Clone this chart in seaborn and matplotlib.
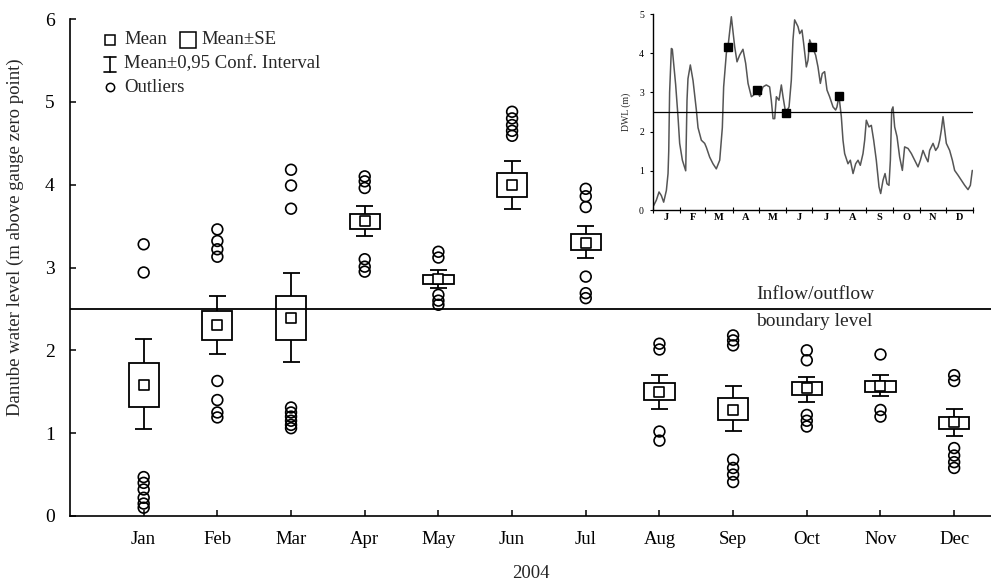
import numpy as np
import pandas as pd
import matplotlib
matplotlib.use("Agg")
import matplotlib.pyplot as plt
import seaborn as sns

# ---- monthly statistics of the Danube water level, 2004 ----
months = ["Jan", "Feb", "Mar", "Apr", "May", "Jun",
          "Jul", "Aug", "Sep", "Oct", "Nov", "Dec"]
mean_level = [1.58, 2.30, 2.39, 3.56, 2.86, 4.00, 3.30, 1.50, 1.28, 1.54, 1.57, 1.13]
se_low = [1.32, 2.13, 2.13, 3.47, 2.80, 3.85, 3.21, 1.40, 1.16, 1.46, 1.50, 1.05]
se_high = [1.85, 2.47, 2.65, 3.65, 2.91, 4.14, 3.40, 1.60, 1.43, 1.62, 1.63, 1.20]
ci_low = [1.05, 1.96, 1.86, 3.38, 2.75, 3.71, 3.11, 1.29, 1.03, 1.38, 1.45, 0.97]
ci_high = [2.14, 2.66, 2.93, 3.74, 2.97, 4.28, 3.50, 1.70, 1.57, 1.68, 1.70, 1.29]

outlier_month = (["Jan"] * 8 + ["Feb"] * 8 + ["Mar"] * 9 + ["Apr"] * 6 +
                 ["May"] * 5 + ["Jun"] * 5 + ["Jul"] * 6 + ["Aug"] * 4 +
                 ["Sep"] * 7 + ["Oct"] * 5 + ["Nov"] * 3 + ["Dec"] * 6)
outlier_value = [3.28, 2.94, 0.47, 0.40, 0.32, 0.22, 0.15, 0.10,
                 3.46, 3.32, 3.22, 3.13, 1.63, 1.40, 1.25, 1.19,
                 4.18, 3.99, 3.71, 1.31, 1.25, 1.20, 1.15, 1.10, 1.06,
                 4.10, 4.04, 3.96, 3.10, 3.01, 2.95,
                 3.19, 3.12, 2.67, 2.60, 2.55,
                 4.88, 4.80, 4.72, 4.65, 4.59,
                 3.95, 3.86, 3.73, 2.89, 2.69, 2.63,
                 2.08, 2.01, 1.02, 0.91,
                 2.18, 2.12, 2.06, 0.68, 0.58, 0.50, 0.41,
                 2.00, 1.88, 1.22, 1.15, 1.08,
                 1.95, 1.28, 1.20,
                 1.70, 1.63, 0.82, 0.73, 0.65, 0.58]

boundary_level = 2.5

# ---- daily water level (inset) ----
day = [0, 3.8, 6.9, 9.5, 12.2, 15.3, 17.2, 18.0, 19.0, 21.0, 22.1, 25.9, 28.6,
       30.5, 33.6, 37.4, 38.9, 40.0, 42.7, 45.8, 49.6, 51.5, 55.3, 59.1, 61.0,
       64.8, 68.6, 72.4, 76.3, 79.3, 80.8, 83.9, 85.8, 89.6, 93.4, 96.1, 99.1,
       102.9, 106.0, 108.7, 112.5, 115.1, 118.9, 122.0, 125.8, 129.6, 133.4,
       135.3, 137.3, 139.2, 141.1, 144.1, 146.8, 148.7, 151.7, 155.6, 158.2,
       160.1, 162.0, 165.8, 167.8, 170.4, 172.3, 175.4, 177.3, 179.2, 182.2,
       186.0, 188.7, 191.4, 193.6, 196.3, 199.0, 202.0, 205.9, 208.9, 210.4,
       212.7, 215.4, 217.3, 219.2, 223.0, 225.7, 228.8, 231.8, 234.5, 237.1,
       240.2, 242.1, 244.0, 247.0, 249.7, 252.4, 255.4, 258.5, 260.4, 263.1,
       265.4, 267.6, 269.9, 271.5, 273.0, 274.5, 276.4, 279.1, 282.1, 285.2,
       287.8, 291.7, 295.5, 299.3, 303.1, 305.8, 308.8, 311.9, 314.5, 316.4,
       320.3, 323.3, 326.0, 327.9, 329.8, 331.7, 333.6, 335.5, 339.3, 342.4,
       345.0, 348.8, 352.7, 356.5, 360.3, 363.0, 365.2]
dwl = [0.08, 0.25, 0.46, 0.37, 0.20, 0.50, 0.93, 1.50, 3.00, 4.12, 4.10, 3.20, 2.38,
       1.70, 1.27, 1.00, 2.80, 3.35, 3.70, 3.30, 2.55, 2.10, 1.78, 1.70, 1.60,
       1.35, 1.18, 1.05, 1.27, 2.10, 3.14, 4.00, 4.17, 4.93, 4.17, 3.78, 3.95,
       4.10, 3.74, 3.23, 2.89, 2.93, 3.06, 2.90, 3.14, 3.19, 3.14,
       2.80, 2.33, 2.33, 2.89, 2.80, 3.19, 2.89, 2.48, 2.63, 3.31,
       4.34, 4.85, 4.68, 4.50, 4.59, 4.25, 3.65, 3.82, 4.34, 4.17,
       3.95, 3.65, 3.23, 3.48, 3.53, 3.06, 2.89, 2.63, 2.55, 2.63,
       2.91, 2.38, 1.78, 1.44, 1.18, 1.27, 0.93, 1.18, 1.27, 1.14,
       1.44, 1.78, 2.29, 2.12, 2.16, 1.78, 1.27, 0.59, 0.42, 0.76,
       0.93, 0.67, 0.63, 1.27, 2.55, 2.63, 2.12, 1.87, 1.35, 1.01,
       1.61, 1.57, 1.44, 1.27, 1.10, 1.27, 1.52, 1.35, 1.23, 1.52,
       1.70, 1.52, 1.61, 1.78, 2.04, 2.38, 2.04, 1.70, 1.52, 1.27,
       1.01, 0.89, 0.76, 0.63, 0.52, 0.63, 1.01]
sample_day = [85.8, 118.9, 151.7, 182.2, 212.7]
sample_dwl = [4.17, 3.06, 2.48, 4.17, 2.91]
month_initials = ["J", "F", "M", "A", "M", "J", "J", "A", "S", "O", "N", "D"]
month_start = [0, 31, 60, 91, 121, 152, 182, 213, 244, 274, 305, 335, 366]

# ---- style ----
sns.set_theme(style="ticks")
plt.rcParams["font.family"] = ["Liberation Serif", "DejaVu Serif"]
plt.rcParams["axes.linewidth"] = 1.2
plt.rcParams["axes.edgecolor"] = "black"
plt.rcParams["xtick.color"] = "black"
plt.rcParams["ytick.color"] = "black"

W, H = 991, 586
fig = plt.figure(figsize=(W / 100, H / 100), dpi=100)
ax = fig.add_axes([70 / W, 1 - 516 / H, (W - 70) / W, (516 - 19) / H])

pos = np.arange(len(months))
stats = pd.DataFrame({"month": months, "pos": pos, "mean": mean_level,
                      "se_lo": se_low, "se_hi": se_high,
                      "ci_lo": ci_low, "ci_hi": ci_high})
out = pd.DataFrame({"month": outlier_month, "value": outlier_value})
out["pos"] = out["month"].map(dict(zip(months, pos)))

lw = 1.3
box_w = 0.41
cap_w = 0.23

# mean ± SE boxes
ax.bar(stats["pos"], stats["se_hi"] - stats["se_lo"], bottom=stats["se_lo"],
       width=box_w, fill=False, edgecolor="black", linewidth=lw, zorder=3)
# 95 % confidence whiskers with caps
ax.vlines(stats["pos"], stats["se_hi"], stats["ci_hi"], color="black", lw=lw, zorder=3)
ax.vlines(stats["pos"], stats["ci_lo"], stats["se_lo"], color="black", lw=lw, zorder=3)
ax.hlines(stats["ci_hi"], stats["pos"] - cap_w / 2, stats["pos"] + cap_w / 2,
          color="black", lw=lw, zorder=3)
ax.hlines(stats["ci_lo"], stats["pos"] - cap_w / 2, stats["pos"] + cap_w / 2,
          color="black", lw=lw, zorder=3)
# means
sns.scatterplot(data=stats, x="pos", y="mean", marker="s", s=55,
                facecolor="white", edgecolor="black", linewidth=1.2,
                ax=ax, zorder=4, legend=False)
# outliers
sns.scatterplot(data=out, x="pos", y="value", marker="o", s=60,
                facecolor="none", edgecolor="black", linewidth=1.2,
                ax=ax, zorder=4, legend=False)

# inflow/outflow boundary
ax.axhline(boundary_level, color="black", lw=1.3, zorder=2)
ax.text(8.31, boundary_level + 0.07, "Inflow/outflow", fontsize=14,
        ha="left", va="bottom")
ax.text(8.31, boundary_level - 0.05, "boundary level", fontsize=14,
        ha="left", va="top")

ax.set_xlim(-1, 11.5)
ax.set_ylim(0, 6)
ax.set_xticks(pos)
ax.set_xticklabels(months)
ax.set_yticks(range(7))
ax.tick_params(axis="both", direction="in", length=4, width=1.1, colors="black")
ax.tick_params(axis="x", pad=11, labelsize=13.5)
ax.tick_params(axis="y", pad=11, labelsize=14)
for s in ["top", "right"]:
    ax.spines[s].set_visible(False)
ax.set_xlabel("2004", fontsize=13.5, labelpad=12)
ax.set_ylabel("")
fig.text(15 / W, 1 - 237 / H, "Danube water level (m above gauge zero point)",
         rotation=90, ha="center", va="center", fontsize=13.5)

# key
def axp(px, py):
    return (px - 70) / (W - 70), (516 - py) / (516 - 19)

kw = dict(transform=ax.transAxes, clip_on=False, color="black")
x0, y0 = axp(110, 40)
ax.plot([x0], [y0], marker="s", ms=7, mfc="white", mec="black", mew=1.1, **kw)
ax.text(*axp(124, 40), "Mean", fontsize=13.5, va="center", ha="left", transform=ax.transAxes)
x1, y1 = axp(188, 40)
ax.plot([x1], [y1], marker="s", ms=11, mfc="white", mec="black", mew=1.1, **kw)
ax.text(*axp(201, 40), "Mean±SE", fontsize=13.5, va="center", ha="left", transform=ax.transAxes)
xa, ya = axp(110, 57)
xb, yb = axp(110, 72)
xl, _ = axp(104, 57)
xr, _ = axp(116, 57)
ax.plot([xa, xb], [ya, yb], lw=1.2, **kw)
ax.plot([xl, xr], [ya, ya], lw=1.2, **kw)
ax.plot([xl, xr], [yb, yb], lw=1.2, **kw)
ax.text(*axp(124, 64), "Mean±0,95 Conf. Interval", fontsize=13.5, va="center",
        ha="left", transform=ax.transAxes)
xc, yc = axp(110, 87)
ax.plot([xc], [yc], marker="o", ms=6, mfc="none", mec="black", mew=1.1, **kw)
ax.text(*axp(124, 87), "Outliers", fontsize=13.5, va="center", ha="left",
        transform=ax.transAxes)

# ---- inset: daily water level ----
ins = fig.add_axes([653 / W, 1 - 210 / H, 320 / W, 196 / H])
daily = pd.DataFrame({"day": day, "dwl": dwl})
sns.lineplot(data=daily, x="day", y="dwl", color="#555555", lw=1.1, ax=ins)
ins.axhline(boundary_level, color="black", lw=0.9)
ins.plot(sample_day, sample_dwl, ls="none", marker="s", ms=5.5, color="black")
ins.set_xlim(0, 366)
ins.set_ylim(0, 5)
ins.set_yticks(range(6))
ins.set_xticks(month_start)
ins.set_xticklabels([])
ins.set_xticks([(a + b) / 2 for a, b in zip(month_start[:-1], month_start[1:])], minor=True)
ins.set_xticklabels(month_initials, minor=True, fontsize=7.5, fontweight="bold")
ins.tick_params(axis="x", which="major", direction="inout", length=4, width=0.8)
ins.tick_params(axis="x", which="minor", length=0, pad=2)
ins.tick_params(axis="y", direction="out", length=2.5, width=0.8, labelsize=7, pad=4)
for s in ["top", "right"]:
    ins.spines[s].set_visible(False)
for s in ["left", "bottom"]:
    ins.spines[s].set_linewidth(1.0)
ins.set_xlabel("")
ins.set_ylabel("DWL (m)", fontsize=7, labelpad=6)
ins.patch.set_alpha(0)

fig.savefig("out.png", dpi=100)
